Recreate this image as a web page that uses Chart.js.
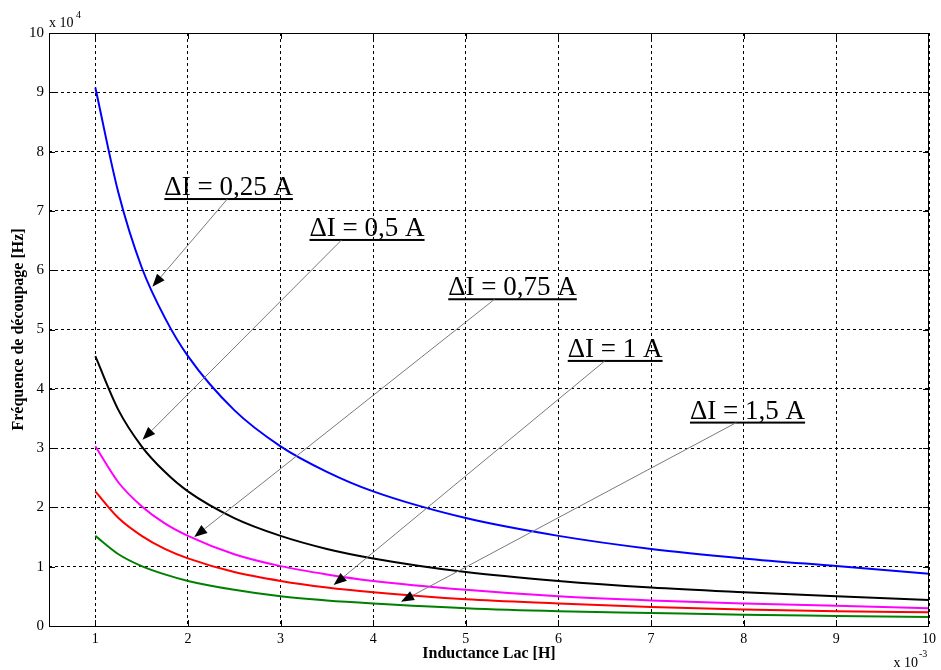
<!DOCTYPE html>
<html>
<head>
<meta charset="utf-8">
<script src="https://cdn.jsdelivr.net/npm/chart.js@4.4.1/dist/chart.umd.min.js"></script>
<style>
  html, body { margin: 0; padding: 0; background: #fff; }
</style>
</head>
<body>
<canvas id="chart" width="941" height="670"></canvas>
<script>
// inductance in x 10^-3 H, frequency in x 10^4 Hz
const inductance = [1, 1.25, 1.5, 1.75, 2, 2.5, 3, 3.5, 4, 5, 6, 7, 8, 9, 10]
const freqDI025 = [9.08, 7.30, 6.05, 5.20, 4.55, 3.64, 3.03, 2.60, 2.27, 1.82, 1.52, 1.30, 1.14, 1.01, 0.88]
const freqDI05 = [4.55, 3.64, 3.03, 2.60, 2.27, 1.82, 1.52, 1.30, 1.14, 0.91, 0.76, 0.65, 0.57, 0.50, 0.44]
const freqDI075 = [3.03, 2.42, 2.02, 1.73, 1.52, 1.21, 1.01, 0.87, 0.76, 0.61, 0.50, 0.43, 0.38, 0.34, 0.30]
const freqDI1 = [2.27, 1.82, 1.52, 1.30, 1.14, 0.91, 0.76, 0.65, 0.57, 0.45, 0.38, 0.32, 0.28, 0.25, 0.23]
const freqDI15 = [1.52, 1.21, 1.01, 0.87, 0.76, 0.61, 0.50, 0.43, 0.38, 0.30, 0.25, 0.22, 0.19, 0.17, 0.15]

const seriesNames = ['ΔI = 0,25 A', 'ΔI = 0,5 A', 'ΔI = 0,75 A', 'ΔI = 1 A', 'ΔI = 1,5 A']
const seriesValues = [freqDI025, freqDI05, freqDI075, freqDI1, freqDI15]
const seriesColors = ['#0000ff', '#000000', '#ff00ff', '#ff0000', '#008000']

// callouts: label left edge / underline (data units), leader start, arrow tip
const annoTextX = [1.745, 3.312, 4.81, 6.10, 7.42]
const annoLineY = [7.20, 6.51, 5.51, 4.47, 3.43]
const annoStartX = [2.425, 3.659, 5.31, 6.50, 7.92]
const annoTipX = [1.616, 1.509, 2.068, 3.573, 4.30]
const annoTipY = [5.72, 3.14, 1.50, 0.69, 0.41]

const serif = '"Liberation Serif", "Times New Roman", serif'

const datasets = seriesValues.map((vals, i) => ({
  label: seriesNames[i],
  data: inductance.map((x, j) => ({ x: x, y: vals[j] })),
  borderColor: seriesColors[i],
  backgroundColor: seriesColors[i],
  borderWidth: 2,
  pointRadius: 0,
  cubicInterpolationMode: 'monotone',
  fill: false,
}))

// frame, inward ticks, exponent labels and the arrows with labels
const decorations = {
  id: 'decorations',
  afterDatasetsDraw(chart) {
    const { ctx, chartArea: a, scales: { x, y } } = chart
    ctx.save()

    // callouts
    ctx.font = '27px ' + serif
    ctx.textBaseline = 'alphabetic'
    ctx.textAlign = 'left'
    for (let i = 0; i < seriesNames.length; i++) {
      const tx = x.getPixelForValue(annoTextX[i])
      const uy = y.getPixelForValue(annoLineY[i])
      const w = ctx.measureText(seriesNames[i]).width
      ctx.fillStyle = '#000'
      ctx.fillText(seriesNames[i], tx, uy - 4)
      ctx.fillRect(tx, uy - 1, w, 2)

      const sx = x.getPixelForValue(annoStartX[i])
      const px = x.getPixelForValue(annoTipX[i])
      const py = y.getPixelForValue(annoTipY[i])
      const ang = Math.atan2(py - uy, px - sx)
      const len = 13, half = 5
      const bx = px - len * Math.cos(ang), by = py - len * Math.sin(ang)
      ctx.strokeStyle = '#7a7a7a'
      ctx.lineWidth = 1
      ctx.beginPath()
      ctx.moveTo(sx, uy)
      ctx.lineTo(bx, by)
      ctx.stroke()
      ctx.beginPath()
      ctx.moveTo(px, py)
      ctx.lineTo(bx + half * Math.sin(ang), by - half * Math.cos(ang))
      ctx.lineTo(bx - half * Math.sin(ang), by + half * Math.cos(ang))
      ctx.closePath()
      ctx.fill()
    }

    // box
    ctx.strokeStyle = '#000'
    ctx.lineWidth = 1
    ctx.strokeRect(a.left + 0.5, a.top + 0.5, a.right - a.left - 1, a.bottom - a.top)

    // inward tick marks on all four sides
    ctx.beginPath()
    for (let v = 1; v <= 9; v++) {
      const px = Math.round(x.getPixelForValue(v)) + 0.5
      ctx.moveTo(px, a.bottom); ctx.lineTo(px, a.bottom - 6)
      ctx.moveTo(px, a.top); ctx.lineTo(px, a.top + 6)
      const py = Math.round(y.getPixelForValue(v)) + 0.5
      ctx.moveTo(a.left, py); ctx.lineTo(a.left + 6, py)
      ctx.moveTo(a.right, py); ctx.lineTo(a.right - 6, py)
    }
    ctx.stroke()

    // exponent labels
    ctx.fillStyle = '#000'
    ctx.font = '14px ' + serif
    ctx.fillText('x 10', a.left, a.top - 6)
    ctx.font = '10px ' + serif
    ctx.fillText('4', a.left + 27, a.top - 15)
    ctx.font = '14px ' + serif
    ctx.textAlign = 'right'
    ctx.fillText('x 10', a.right - 11, 667)
    ctx.font = '10px ' + serif
    ctx.textAlign = 'left'
    ctx.fillText('-3', a.right - 10, 657)

    ctx.restore()
  }
}

new Chart(document.getElementById('chart'), {
  type: 'line',
  data: { datasets: datasets },
  options: {
    responsive: false,
    animation: false,
    layout: { padding: { top: 33, right: 8, left: 0, bottom: 0 } },
    plugins: {
      legend: { display: false },
      tooltip: { enabled: false },
    },
    scales: {
      x: {
        type: 'linear',
        min: 0.5,
        max: 10,
        afterFit: s => { s.height = 44 },
        ticks: {
          stepSize: 1,
          padding: 5,
          color: '#000',
          font: { family: serif, size: 14 },
          callback: v => Number.isInteger(v) ? String(v) : '',
        },
        grid: { color: '#000', lineWidth: 1, drawTicks: false },
        border: { display: false, dash: [3, 3] },
        title: {
          display: true,
          text: 'Inductance Lac [H]',
          color: '#000',
          font: { family: serif, size: 16, weight: 'bold' },
          padding: { top: 0, bottom: 7 },
        },
      },
      y: {
        type: 'linear',
        min: 0,
        max: 10,
        afterFit: s => { s.width = 49 },
        ticks: {
          stepSize: 1,
          padding: 5,
          color: '#000',
          font: { family: serif, size: 15 },
        },
        grid: { color: '#000', lineWidth: 1, drawTicks: false },
        border: { display: false, dash: [3, 3] },
        title: {
          display: true,
          text: 'Fréquence de découpage [Hz]',
          color: '#000',
          font: { family: serif, size: 16, weight: 'bold' },
          padding: { top: 9, bottom: 0 },
        },
      },
    },
  },
  plugins: [decorations],
})
</script>
</body>
</html>
